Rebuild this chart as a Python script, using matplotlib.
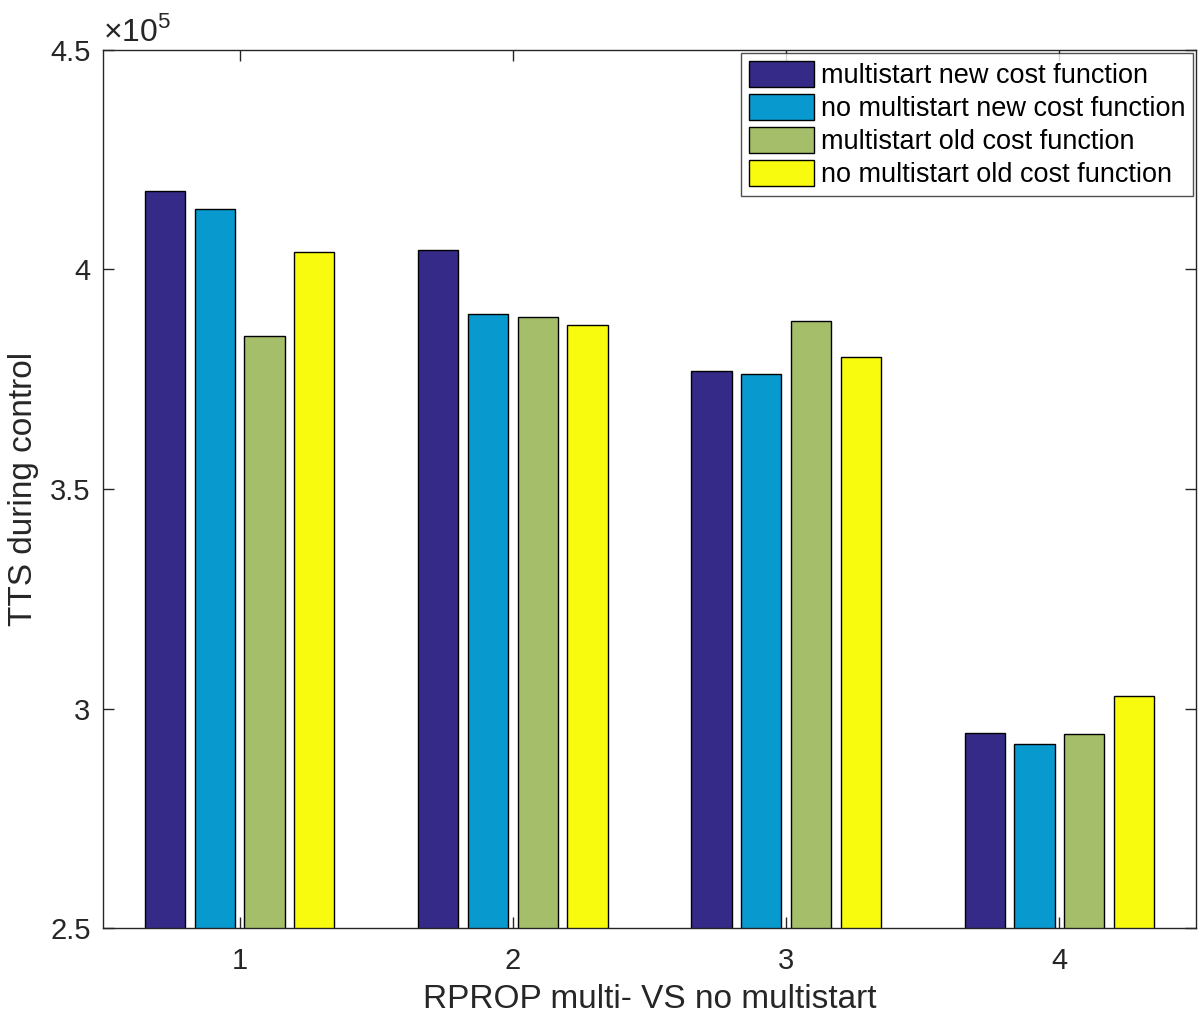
import numpy as np
import matplotlib
matplotlib.use("Agg")
import matplotlib.pyplot as plt
from matplotlib.ticker import FuncFormatter

plt.rcParams['font.family'] = ['Liberation Sans', 'DejaVu Sans']
plt.rcParams['mathtext.fontset'] = 'custom'
plt.rcParams['mathtext.rm'] = 'Liberation Sans'

# Data (TTS values)
groups = [1, 2, 3, 4]
series = [
    "multistart new cost function",
    "no multistart new cost function",
    "multistart old cost function",
    "no multistart old cost function",
]
multi_new = [417900, 404400, 376900, 294400]
nomulti_new = [413800, 389900, 376200, 291900]
multi_old = [384900, 389200, 388300, 294200]
nomulti_old = [404000, 387400, 380100, 302900]
colors = ["#352A87", "#0899CE", "#A5BE6A", "#F9FB0E"]

values = [multi_new, nomulti_new, multi_old, nomulti_old]

fig = plt.figure(figsize=(12.02, 10.18), dpi=100)
ax = fig.add_axes([0.0857, 0.0884, 0.9093, 0.8625])

x = np.array(groups, dtype=float)
width = 0.147
step = 0.182
for i, (vals, lab, c) in enumerate(zip(values, series, colors)):
    ax.bar(x + (i - 1.5) * step, vals, width, color=c, edgecolor='black',
           linewidth=1.0, label=lab, zorder=2)

ax.set_xlim(0.5, 4.5)
ax.set_ylim(2.5e5, 4.5e5)
ax.set_xticks(groups)
ax.set_yticks([2.5e5, 3e5, 3.5e5, 4e5, 4.5e5])
ax.yaxis.set_major_formatter(FuncFormatter(lambda v, p: f"{v / 1e5:g}"))
ax.tick_params(direction='in', length=8, width=1, labelsize=21,
               top=True, right=True, colors='#262626')
ax.tick_params(axis='x', pad=14)
ax.tick_params(axis='y', pad=9)
for sp in ax.spines.values():
    sp.set_color('#262626')
    sp.set_linewidth(1.0)

ax.text(0.0, 1.002, r'$\times 10^{5}$', transform=ax.transAxes,
        fontsize=23, color='#262626', ha='left', va='bottom')

ax.set_xlabel("RPROP multi- VS no multistart", fontsize=24, color='#262626',
              labelpad=6)
ax.set_ylabel("TTS during control", fontsize=24, color='#262626', labelpad=8)

leg = ax.legend(loc='upper right', fontsize=19.5, frameon=True, fancybox=False,
                edgecolor='#262626', borderpad=0.3, handlelength=2.4,
                handleheight=1.1, handletextpad=0.25, labelspacing=0.18,
                borderaxespad=0.1)
leg.get_frame().set_linewidth(1.0)

fig.savefig("out.png", dpi=100)
